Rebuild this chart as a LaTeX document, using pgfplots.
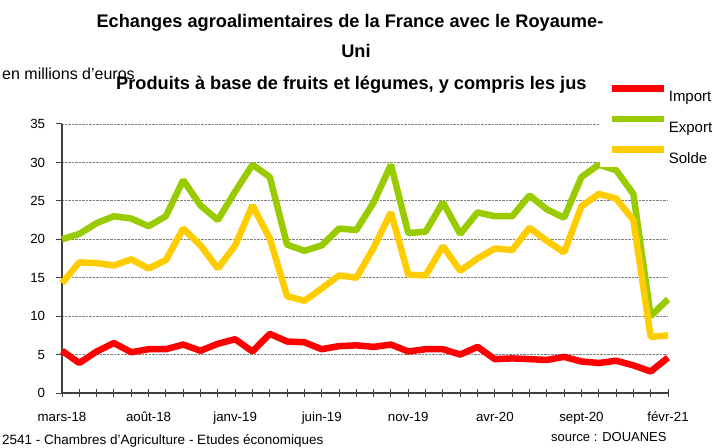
\documentclass[border=0pt]{standalone}
\usepackage{fontspec}
\setmainfont{Liberation Sans}
\usepackage{pgfplots}
\usepackage{pgfplotstable}
\pgfplotsset{compat=1.18}
\definecolor{cimp}{RGB}{255,0,0}
\definecolor{cexp}{RGB}{153,204,0}
\definecolor{csol}{RGB}{255,204,0}
\definecolor{axgray}{RGB}{64,64,64}

\pgfplotstableread{
i imp exp sol
0 5.5 20.0 14.3
1 3.9 20.7 17.0
2 5.4 22.1 16.9
3 6.5 23.0 16.6
4 5.3 22.7 17.4
5 5.7 21.7 16.2
6 5.7 23.0 17.3
7 6.3 27.7 21.4
8 5.5 24.4 19.2
9 6.4 22.5 16.2
10 7.0 26.2 19.2
11 5.4 29.7 24.4
12 7.7 28.1 20.1
13 6.7 19.3 12.6
14 6.6 18.5 12.0
15 5.7 19.2 13.6
16 6.1 21.4 15.3
17 6.2 21.2 15.0
18 6.0 24.8 18.9
19 6.3 29.7 23.5
20 5.4 20.8 15.4
21 5.7 21.0 15.3
22 5.7 24.8 19.1
23 5.0 20.7 15.9
24 6.0 23.5 17.5
25 4.4 23.0 18.8
26 4.5 23.0 18.6
27 4.4 25.7 21.5
28 4.3 23.9 19.8
29 4.7 22.8 18.3
30 4.1 28.1 24.3
31 3.9 29.7 25.9
32 4.2 29.0 25.3
33 3.6 25.9 22.5
34 2.8 10.0 7.3
35 4.6 12.2 7.5
}\data

\begin{document}
\begin{tikzpicture}[x=1pt,y=1pt]
\useasboundingbox (0pt,0pt) rectangle (714pt,447pt);
\node[anchor=base west,font=\fontsize{16}{18}\selectfont,inner sep=0pt] at (2pt,367pt) {en millions d'euros};
\node[anchor=base,font=\fontsize{18.2}{22}\selectfont\bfseries,inner sep=0pt] at (350pt,419pt) {Echanges agroalimentaires de la France avec le Royaume-};
\node[anchor=base,font=\fontsize{18.2}{22}\selectfont\bfseries,inner sep=0pt] at (356pt,389pt) {Uni};
\begin{scope}
\clip (0pt,0pt) rectangle (603pt,447pt);
\node[anchor=base west,font=\fontsize{18.2}{22}\selectfont\bfseries,inner sep=0pt] at (116pt,357pt) {Produits à base de fruits et légumes, y compris les jus};
\end{scope}
\node[anchor=base west,font=\fontsize{13.5}{15}\selectfont,inner sep=0pt] at (2pt,3pt) {2541 - Chambres d'Agriculture - Etudes économiques};
\node[anchor=base west,font=\fontsize{13}{15}\selectfont,inner sep=0pt] at (551pt,6pt) {source : DOUANES};
\begin{axis}[
  at={(62pt,54pt)}, anchor=south west,
  scale only axis, width=606pt, height=269pt,
  xmin=0, xmax=35, ymin=0, ymax=35,
  axis lines*=left,
  axis line style={axgray, line width=1.2pt},
  xtick={0,5,...,35},
  xticklabels={mars-18,août-18,janv-19,juin-19,nov-19,avr-20,sept-20,févr-21},
  minor xtick={0,...,35},
  ytick={0,5,...,35},
  ymajorgrids,
  grid style={densely dotted, gray, line width=0.8pt},
  tick align=outside,
  major tick length=5.7pt,
  minor tick length=7.7pt,
  tick style={axgray, line width=1pt},
  every major x tick/.style={draw=none},
  every minor x tick/.style={yshift=3.8pt},
  /pgf/number format/assume math mode=true,
  ticklabel style={font=\fontsize{13.3}{15}\selectfont},
  yticklabel style={inner sep=0pt, xshift=-11pt},
  xticklabel style={inner sep=0pt, yshift=-13pt},
  legend style={at={(0.888,1.1456)}, anchor=north west, fill=white, draw=none,
    font=\fontsize{15}{17}\selectfont, inner xsep=8pt, inner ysep=0pt, row sep=10.5pt,
    /tikz/every even column/.append style={column sep=1pt}},
  legend cell align=left,
  legend image code/.code={\draw[#1] (0pt,9pt) -- (52pt,9pt);},
  every axis plot/.append style={line width=6.5pt, line join=bevel},
  clip=false,
]
\addplot[cimp] table[x=i,y=imp] {\data};
\addlegendentry{Import}
\addplot[cexp] table[x=i,y=exp] {\data};
\addlegendentry{Export}
\addplot[csol] table[x=i,y=sol] {\data};
\addlegendentry{Solde}
\end{axis}
\end{tikzpicture}
\end{document}
